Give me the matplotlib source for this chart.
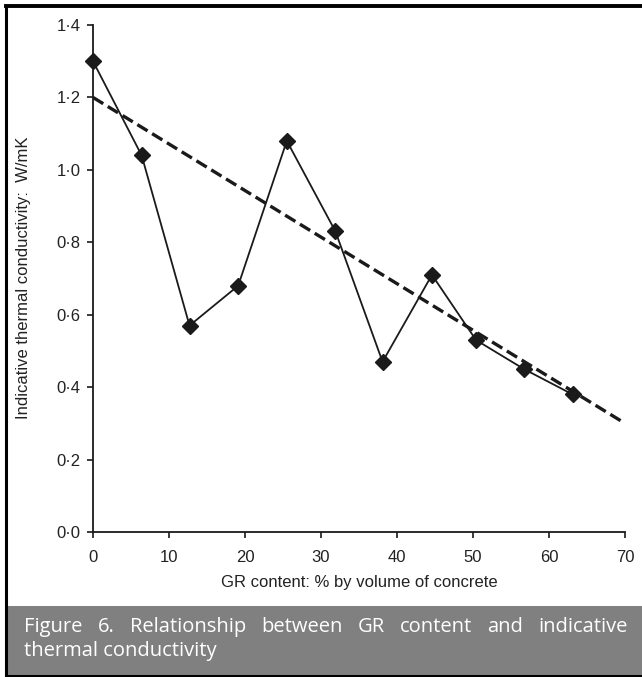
import numpy as np
import matplotlib.pyplot as plt
from matplotlib.patches import Rectangle
from matplotlib.ticker import FuncFormatter

# GR content (% by volume) and measured conductivity
gr_content = [0, 6.4, 12.7, 19.1, 25.5, 31.9, 38.1, 44.6, 50.4, 56.7, 63.1]
conductivity = [1.30, 1.04, 0.57, 0.68, 1.08, 0.83, 0.47, 0.71, 0.53, 0.45, 0.38]

# linear trend line end points
trend_x = [0, 70]
trend_y = [1.20, 0.30]

x_ticks = [0, 10, 20, 30, 40, 50, 60, 70]
y_ticks = [0.0, 0.2, 0.4, 0.6, 0.8, 1.0, 1.2, 1.4]

caption_line1 = "Figure 6. Relationship between GR content and indicative"
caption_line2 = "thermal conductivity"

W, H = 642, 677
fig = plt.figure(figsize=(W / 100, H / 100), dpi=100)
plt.rcParams['font.family'] = ['Liberation Sans', 'DejaVu Sans']

ax = fig.add_axes([93 / W, 1 - 532 / H, (625 - 93) / W, (532 - 25) / H])
ax.plot(trend_x, trend_y, color='#1a1a1a', lw=2.4, linestyle=(0, (3.6, 1.6)),
        solid_capstyle='butt', dash_capstyle='butt')
ax.plot(gr_content, conductivity, color='#1a1a1a', lw=1.3, marker='D', ms=8,
        markerfacecolor='#1a1a1a', markeredgecolor='#1a1a1a', clip_on=False)

ax.set_xlim(0, 70)
ax.set_ylim(0, 1.4)
ax.set_xticks(x_ticks)
ax.set_yticks(y_ticks)
ax.yaxis.set_major_formatter(FuncFormatter(lambda v, p: f"{v:.1f}".replace('.', '\u00b7')))
for s in ['top', 'right']:
    ax.spines[s].set_visible(False)
for s in ['left', 'bottom']:
    ax.spines[s].set_linewidth(1.3)
    ax.spines[s].set_color('#1a1a1a')
ax.tick_params(axis='both', direction='out', length=4, width=1.2, color='#1a1a1a',
               labelsize=12, labelcolor='#222222')
ax.tick_params(axis='x', pad=9)
ax.tick_params(axis='y', pad=5)

fig.text(24 / W, 1 - 278 / H, "Indicative thermal conductivity:  W/mK", rotation=90,
         ha='center', va='center', fontsize=12, color='#222222')
fig.text(359 / W, 1 - 582 / H, "GR content: % by volume of concrete",
         ha='center', va='center', fontsize=12, color='#222222')

# caption box and outer frame
fig.patches.append(Rectangle((6 / W, 0), 1, (677 - 606) / H, transform=fig.transFigure,
                             facecolor='#808080', edgecolor='none', zorder=0))
fig.add_artist(plt.Line2D([6 / W, 6 / W], [0, 1 - 6 / H], transform=fig.transFigure,
                          color='black', lw=2.2))
fig.add_artist(plt.Line2D([6 / W, 1], [1 - 6 / H, 1 - 6 / H], transform=fig.transFigure,
                          color='black', lw=2.8))
fig.add_artist(plt.Line2D([6 / W, 1], [1.5 / H, 1.5 / H], transform=fig.transFigure,
                          color='black', lw=2.2))

# justified first caption line
cap_font = dict(fontsize=14.5, color='white', family=['Open Sans', 'DejaVu Sans'],
                va='baseline')
words = caption_line1.split()
renderer = fig.canvas.get_renderer()
texts = [fig.text(0, 1 - 632 / H, w, ha='left', **cap_font) for w in words]
widths = [t.get_window_extent(renderer).width for t in texts]
x0, x1 = 24, 628
gap = (x1 - x0 - sum(widths)) / (len(words) - 1)
x = x0
for t, w in zip(texts, widths):
    t.set_x(x / W)
    x += w + gap
fig.text(x0 / W, 1 - 656 / H, caption_line2, ha='left', **cap_font)

fig.savefig('out.png', dpi=100)
